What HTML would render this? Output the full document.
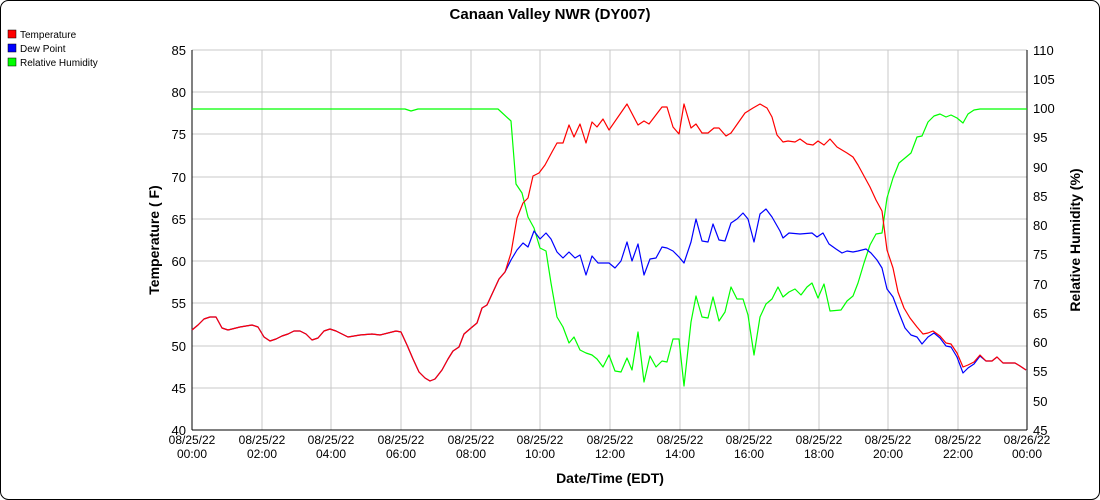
<!DOCTYPE html>
<html><head><meta charset="utf-8"><style>
html,body{margin:0;padding:0;background:#fff;}
svg{display:block;font-family:"Liberation Sans",Arial,sans-serif;}
</style></head><body>
<svg width="1100" height="500" viewBox="0 0 1100 500" xmlns="http://www.w3.org/2000/svg">
<rect x="0.5" y="0.5" width="1099" height="499" rx="8" fill="#fff" stroke="#000"/>
<text x="550" y="19" text-anchor="middle" font-size="15" font-weight="bold">Canaan Valley NWR (DY007)</text>
<g font-size="10">
<rect x="8" y="30" width="8" height="8" fill="#ff0000" stroke="#000" stroke-width="0.5"/><text x="20" y="38">Temperature</text>
<rect x="8" y="44" width="8" height="8" fill="#0000ff" stroke="#000" stroke-width="0.5"/><text x="20" y="52">Dew Point</text>
<rect x="8" y="58" width="8" height="8" fill="#00ff00" stroke="#000" stroke-width="0.5"/><text x="20" y="66">Relative Humidity</text>
</g>
<g stroke="#c8c8c8" stroke-width="1">
<line x1="192" y1="92" x2="1027" y2="92"/><line x1="192" y1="134" x2="1027" y2="134"/><line x1="192" y1="177" x2="1027" y2="177"/><line x1="192" y1="219" x2="1027" y2="219"/><line x1="192" y1="261" x2="1027" y2="261"/><line x1="192" y1="303" x2="1027" y2="303"/><line x1="192" y1="346" x2="1027" y2="346"/><line x1="192" y1="388" x2="1027" y2="388"/><line x1="192" y1="50" x2="1027" y2="50"/>
<line x1="262" y1="50" x2="262" y2="430"/><line x1="331" y1="50" x2="331" y2="430"/><line x1="401" y1="50" x2="401" y2="430"/><line x1="471" y1="50" x2="471" y2="430"/><line x1="540" y1="50" x2="540" y2="430"/><line x1="610" y1="50" x2="610" y2="430"/><line x1="680" y1="50" x2="680" y2="430"/><line x1="749" y1="50" x2="749" y2="430"/><line x1="819" y1="50" x2="819" y2="430"/><line x1="888" y1="50" x2="888" y2="430"/><line x1="958" y1="50" x2="958" y2="430"/>
</g>
<g stroke="#000" stroke-width="1">
<line x1="192" y1="50" x2="192" y2="430"/><line x1="1027" y1="50" x2="1027" y2="430"/><line x1="192" y1="430" x2="1027" y2="430"/>
</g>
<g font-size="13" text-anchor="end">
<text x="186" y="55">85</text><text x="186" y="97">80</text><text x="186" y="139">75</text><text x="186" y="182">70</text><text x="186" y="224">65</text><text x="186" y="266">60</text><text x="186" y="308">55</text><text x="186" y="351">50</text><text x="186" y="393">45</text><text x="186" y="435">40</text>
</g>
<g font-size="13" text-anchor="start">
<text x="1033" y="55">110</text><text x="1033" y="84">105</text><text x="1033" y="113">100</text><text x="1033" y="142">95</text><text x="1033" y="172">90</text><text x="1033" y="201">85</text><text x="1033" y="230">80</text><text x="1033" y="259">75</text><text x="1033" y="289">70</text><text x="1033" y="318">65</text><text x="1033" y="347">60</text><text x="1033" y="376">55</text><text x="1033" y="406">50</text><text x="1033" y="435">45</text>
</g>
<g font-size="12" text-anchor="middle">
<text x="192" y="444">08/25/22</text><text x="192" y="458">00:00</text>
<text x="262" y="444">08/25/22</text><text x="262" y="458">02:00</text>
<text x="331" y="444">08/25/22</text><text x="331" y="458">04:00</text>
<text x="401" y="444">08/25/22</text><text x="401" y="458">06:00</text>
<text x="471" y="444">08/25/22</text><text x="471" y="458">08:00</text>
<text x="540" y="444">08/25/22</text><text x="540" y="458">10:00</text>
<text x="610" y="444">08/25/22</text><text x="610" y="458">12:00</text>
<text x="680" y="444">08/25/22</text><text x="680" y="458">14:00</text>
<text x="749" y="444">08/25/22</text><text x="749" y="458">16:00</text>
<text x="819" y="444">08/25/22</text><text x="819" y="458">18:00</text>
<text x="888" y="444">08/25/22</text><text x="888" y="458">20:00</text>
<text x="958" y="444">08/25/22</text><text x="958" y="458">22:00</text>
<text x="1027" y="444">08/26/22</text><text x="1027" y="458">00:00</text>
</g>
<text x="610" y="483" text-anchor="middle" font-size="14" font-weight="bold">Date/Time (EDT)</text>
<text transform="translate(159,240) rotate(-90)" text-anchor="middle" font-size="14" font-weight="bold">Temperature ( F)</text>
<text transform="translate(1080,240) rotate(-90)" text-anchor="middle" font-size="14" font-weight="bold">Relative Humidity (%)</text>
<g fill="none" stroke-width="1.2" stroke-linejoin="round">
<polyline stroke="#00ff00" points="192,109 405,109 411,111 418,109 498,109 511,121 516,184 522,193 528,217 534,228 540,248 546,251 551,283 557,317 563,327 569,343 574,337 580,350 586,353 592,355 597,359 603,367 609,355 615,371 621,372 627,358 632,370 638,332 644,382 650,356 656,367 662,361 667,362 673,339 679,339 684,386 691,322 696,296 702,317 708,318 713,297 719,321 725,312 731,287 737,299 743,299 748,315 754,355 760,317 766,304 772,299 778,287 783,297 789,292 795,289 801,295 807,287 812,283 818,298 824,284 830,311 841,310 847,301 853,296 858,283 864,263 870,245 876,234 882,233 887,198 893,178 899,163 905,158 911,153 917,137 922,136 928,122 934,116 940,114 946,117 951,115 957,118 963,123 968,114 974,110 980,109 1027,109"/>
<polyline stroke="#0000ff" points="192,330 198,325 204,319 210,317 216,317 222,328 228,330 240,327 252,325 258,327 264,337 270,341 276,339 282,336 288,334 294,331 300,331 306,334 312,340 318,338 324,331 330,329 336,331 342,334 348,337 354,336 360,335 372,334 380,335 396,331 401,332 407,345 413,359 419,372 425,378 430,381 435,379 442,370 448,359 453,351 459,347 464,334 471,328 477,323 482,308 487,305 493,292 499,279 505,272 511,260 517,250 523,243 528,247 534,231 540,239 546,233 551,239 557,252 563,258 569,252 575,258 580,255 586,275 592,256 598,263 609,263 615,268 621,261 627,242 632,261 638,244 644,275 650,259 656,258 662,247 667,248 673,251 679,257 684,263 691,242 696,219 702,241 708,242 713,224 719,240 725,241 731,223 737,219 743,213 748,219 754,242 760,214 766,209 772,217 780,231 783,238 789,233 800,234 812,233 817,237 823,233 829,244 836,249 842,253 847,251 853,252 858,251 866,249 871,253 877,260 882,268 887,289 893,297 899,313 905,328 911,335 917,337 922,344 928,337 934,333 940,338 946,346 951,347 957,357 963,373 968,368 974,364 980,356 986,361 992,361 997,357 1003,363 1015,363 1020,366 1026,370"/>
<polyline stroke="#ff0000" points="192,330 198,325 204,319 210,317 216,317 222,328 228,330 240,327 252,325 258,327 264,337 270,341 276,339 282,336 288,334 294,331 300,331 306,334 312,340 318,338 324,331 330,329 336,331 342,334 348,337 354,336 360,335 372,334 380,335 396,331 401,332 407,345 413,359 419,372 425,378 430,381 435,379 442,370 448,359 453,351 459,347 464,334 471,328 477,323 482,308 487,305 493,292 499,279 505,272 511,253 517,218 523,203 528,198 533,176 539,173 545,165 552,152 557,143 563,143 569,125 574,137 580,124 586,143 592,122 597,127 603,119 609,130 627,104 638,125 644,121 649,124 662,107 667,107 673,127 679,134 684,104 691,128 696,124 702,133 708,133 714,128 719,128 726,136 731,133 738,123 745,113 753,108 760,104 767,108 772,117 777,135 783,142 788,141 795,142 800,139 807,144 813,145 818,141 824,145 830,139 837,147 842,150 847,153 853,157 858,165 864,176 870,187 876,200 882,211 887,250 893,268 898,292 904,308 910,318 917,327 923,334 928,333 933,331 940,336 946,343 951,344 957,353 963,367 968,365 974,362 980,355 986,361 992,361 997,357 1003,363 1015,363 1020,366 1026,370"/>
</g>
</svg>
</body></html>
